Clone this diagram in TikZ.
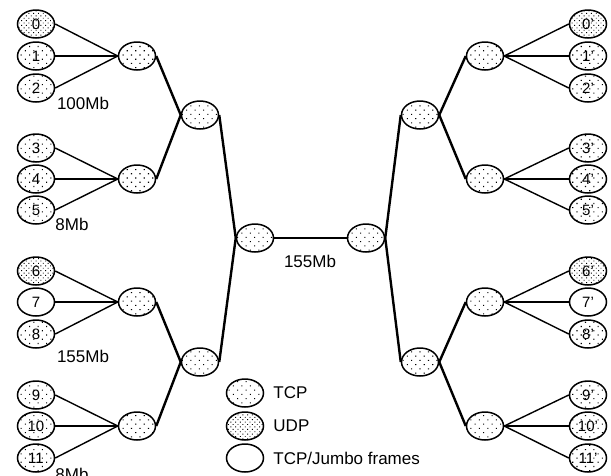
\documentclass[tikz,border=0pt]{standalone}
\usepackage{fontspec}
\setmainfont{Liberation Sans}
\usetikzlibrary{shapes.geometric,patterns.meta,positioning}

\begin{document}
\begin{tikzpicture}[x=1pt, y=-1pt,
  host/.style={ellipse, draw, line width=1.5pt, minimum width=37pt, minimum height=28pt, inner sep=0pt, font=\fontsize{15}{15}\selectfont},
  tcp/.style={host, pattern={Dots[distance=6pt, angle=45, radius=0.75pt]}},
  udp/.style={host, pattern={Dots[distance=3.4pt, angle=45, radius=0.65pt]}},
  jumbo/.style={host, fill=white},
  access/.style={line width=1.4pt},
  trunk/.style={line width=2.4pt},
  lbl/.style={font=\fontsize{17}{17}\selectfont, inner sep=0pt}
]
\useasboundingbox (0,0) rectangle (611,475);

% Hosts, left and right
\foreach \i/\y/\kind in {0/24/udp,1/56/tcp,2/88/tcp,3/148/tcp,4/179/tcp,5/210/tcp,6/271/udp,7/302/jumbo,8/334/tcp,9/395/tcp,10/426/tcp,11/458/tcp} {
  \node[\kind] (l\i) at (36,\y) {\i};
  \node[\kind] (r\i) at (588,\y) {\i'};
}

% Edge routers
\foreach \g/\y in {1/56,2/179,3/302,4/426} {
  \node[tcp] (lg\g) at (137,\y) {};
  \node[tcp] (rg\g) at (485,\y) {};
}

% Aggregation routers
\node[tcp] (lc1) at (200,115) {};
\node[tcp] (lc2) at (200,362) {};
\node[tcp] (rc1) at (420,115) {};
\node[tcp] (rc2) at (420,362) {};

% Core
\node[tcp] (lcore) at (255,238) {};
\node[tcp] (rcore) at (366,238) {};

% Access links
\foreach \g/\a/\b/\c in {1/0/1/2,2/3/4/5,3/6/7/8,4/9/10/11} {
  \foreach \i in {\a,\b,\c} {
    \draw[access] (l\i.east) -- (lg\g.west);
    \draw[access] (r\i.west) -- (rg\g.east);
  }
}

% Trunks
\draw[trunk] (lg1.east) -- (lc1.west);
\draw[trunk] (lg2.east) -- (lc1.west);
\draw[trunk] (lg3.east) -- (lc2.west);
\draw[trunk] (lg4.east) -- (lc2.west);
\draw[trunk] (lc1.east) -- (lcore.west);
\draw[trunk] (lc2.east) -- (lcore.west);
\draw[trunk] (rg1.west) -- (rc1.east);
\draw[trunk] (rg2.west) -- (rc1.east);
\draw[trunk] (rg3.west) -- (rc2.east);
\draw[trunk] (rg4.west) -- (rc2.east);
\draw[trunk] (rc1.west) -- (rcore.east);
\draw[trunk] (rc2.west) -- (rcore.east);
\draw[line width=1.2pt] (lcore.east) -- (rcore.west);

% Bandwidth labels
\node[lbl] (bw1) at (83,103) {100Mb};
\node[lbl] (bw2) at (72,224) {8Mb};
\node[lbl] (bw3) at (83,356) {155Mb};
\node[lbl] (bw4) at (72,474) {8Mb};
\node[lbl] (bwcore) at (310,261) {155Mb};

% Legend
\node[tcp] (keytcp) at (245,393) {};
\node[udp] (keyudp) at (245,426) {};
\node[jumbo] (keyjumbo) at (245,458) {};
\node[lbl, right=9pt of keytcp] {TCP};
\node[lbl, right=9pt of keyudp] {UDP};
\node[lbl, right=9pt of keyjumbo] {TCP/Jumbo frames};
\end{tikzpicture}
\end{document}
